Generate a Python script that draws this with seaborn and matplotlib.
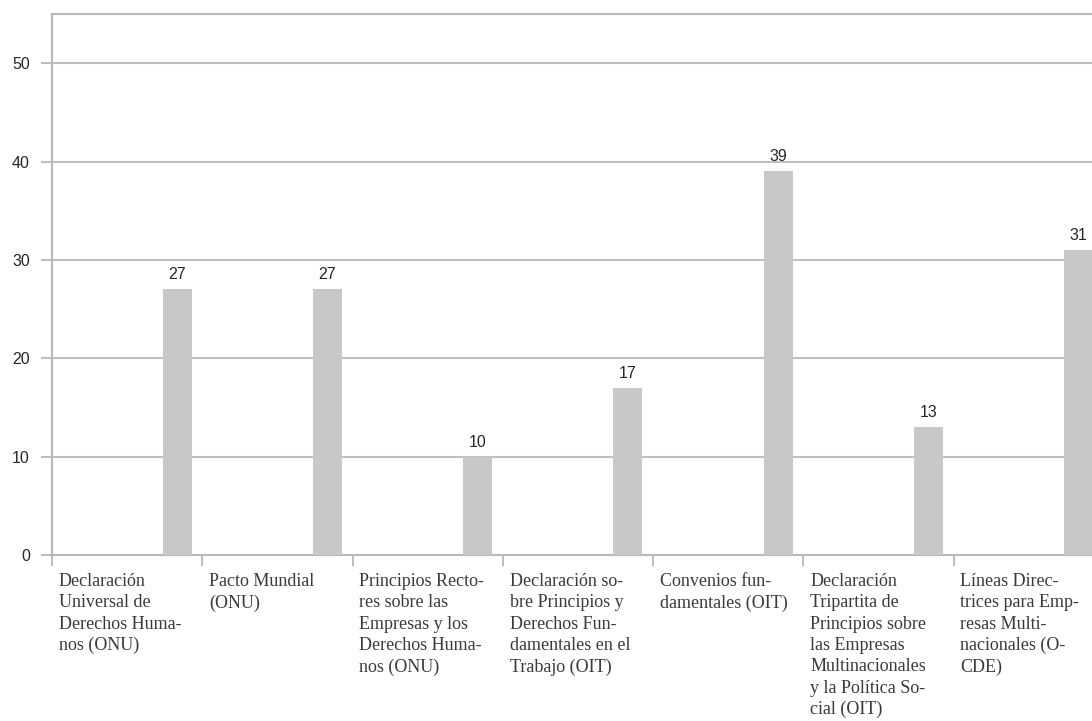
import numpy as np
import pandas as pd
import seaborn as sns
import matplotlib
matplotlib.use("Agg")
import matplotlib.pyplot as plt

categories = [
    "Declaración\nUniversal de\nDerechos Huma-\nnos (ONU)",
    "Pacto Mundial\n(ONU)",
    "Principios Recto-\nres sobre las\nEmpresas y los\nDerechos Huma-\nnos (ONU)",
    "Declaración so-\nbre Principios y\nDerechos Fun-\ndamentales en el\nTrabajo (OIT)",
    "Convenios fun-\ndamentales (OIT)",
    "Declaración\nTripartita de\nPrincipios sobre\nlas Empresas\nMultinacionales\ny la Política So-\ncial (OIT)",
    "Líneas Direc-\ntrices para Emp-\nresas Multi-\nnacionales (O-\nCDE)",
]
values = [27, 27, 10, 17, 39, 13, 31]
yticks = [0, 10, 20, 30, 40, 50]

sns.set_theme(style="white")
plt.rcParams['font.family'] = ['Liberation Sans', 'DejaVu Sans']

fig = plt.figure(figsize=(10.92, 7.21), dpi=100)
ax = fig.add_axes([52/1092, 166/721, 1052/1092, 541/721])

idx = np.arange(len(categories))
bar_offset = 0.332
df = pd.DataFrame({"pos": idx + bar_offset, "val": values})
sns.barplot(data=df, x="pos", y="val", native_scale=True, width=0.193,
            color="#c8c8c8", saturation=1, edgecolor="none", ax=ax, zorder=3)

ax.set_xlim(-0.5, len(categories) - 0.5)
ax.set_ylim(0, 55)
ax.set_yticks(yticks)
ax.set_yticklabels([str(v) for v in yticks], fontsize=11.5, color="#262626")
ax.yaxis.grid(True, color="#c0c0c0", linewidth=1.5, zorder=0)
ax.set_axisbelow(True)

# major ticks at category boundaries (marks only)
ax.set_xticks(np.arange(len(categories) + 1) - 0.5)
ax.set_xticklabels([""] * (len(categories) + 1))
# minor ticks carry the left-aligned labels
ax.set_xticks(idx - 0.5 + 0.045, minor=True)
ax.set_xticklabels(categories, minor=True, ha="left", va="top",
                   fontsize=13, family=["Liberation Serif", "DejaVu Serif"],
                   color="#3a3a3a", linespacing=1.33)

ax.tick_params(axis="x", which="major", direction="out", length=8, width=1.2,
               color="#b0b0b0", pad=5, bottom=True)
ax.tick_params(axis="x", which="minor", length=0, pad=13, bottom=True)
ax.tick_params(axis="y", direction="out", length=8, width=1.2, color="#b0b0b0", pad=8, left=True)

for side in ["left", "bottom", "top"]:
    ax.spines[side].set_visible(True)
    ax.spines[side].set_color("#b8b8b8")
    ax.spines[side].set_linewidth(1.5)
ax.spines["right"].set_visible(False)

ax.bar_label(ax.containers[0], labels=[str(v) for v in values], padding=5,
             fontsize=11.5, color="#262626")

ax.set_xlabel("")
ax.set_ylabel("")

fig.savefig("out.png", dpi=100)
